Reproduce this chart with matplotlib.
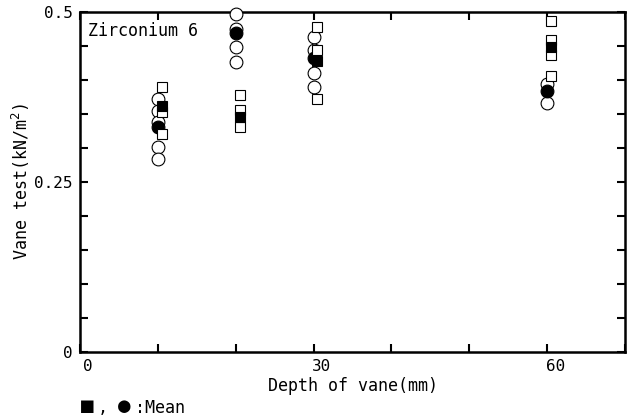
import matplotlib
matplotlib.use("Agg")
import matplotlib.pyplot as plt
import matplotlib.transforms as mtransforms
from matplotlib.ticker import MultipleLocator, FuncFormatter

# ---- data ----
depth = [10, 20, 30, 60]
circle_values = [
    [0.372, 0.354, 0.338, 0.301, 0.284],
    [0.497, 0.475, 0.449, 0.426],
    [0.463, 0.444, 0.410, 0.390],
    [0.395, 0.366],
]
circle_mean = [0.331, 0.469, 0.432, 0.384]
square_values = [
    [0.390, 0.353, 0.320],
    [0.378, 0.356, 0.331],
    [0.478, 0.444, 0.372],
    [0.487, 0.459, 0.437, 0.406],
]
square_mean = [0.362, 0.345, 0.428, 0.448]
x_labels = {0: "0", 30: "30", 60: "60"}
y_labels = {0.0: "0", 0.25: "0.25", 0.5: "0.5"}

FONT = ["DejaVu Sans Mono", "DejaVu Sans"]
plt.rcParams["font.family"] = FONT
plt.rcParams["font.size"] = 12

W, H = 634, 419
fig = plt.figure(figsize=(W / 100, H / 100), dpi=100)
ax = fig.add_axes([0.126, 0.160, 0.860, 0.811])

sq_off = 0.5
for d, vals in zip(depth, circle_values):
    ax.plot([d] * len(vals), vals, linestyle="none", marker="o", markersize=9.2,
            markerfacecolor="white", markeredgecolor="black", markeredgewidth=0.8,
            clip_on=False, zorder=5)
ax.plot(depth, circle_mean, linestyle="none", marker="o", markersize=9.2,
        markerfacecolor="black", markeredgecolor="black", markeredgewidth=0.8,
        clip_on=False, zorder=6)
for d, vals in zip(depth, square_values):
    ax.plot([d + sq_off] * len(vals), vals, linestyle="none", marker="s", markersize=6.5,
            markerfacecolor="white", markeredgecolor="black", markeredgewidth=0.8,
            clip_on=False, zorder=7)
ax.plot([d + sq_off for d in depth], square_mean, linestyle="none", marker="s",
        markersize=6.5, markerfacecolor="black", markeredgecolor="black",
        markeredgewidth=0.8, clip_on=False, zorder=8)

ax.set_xlim(0, 70)
ax.set_ylim(0, 0.5)
ax.xaxis.set_major_locator(MultipleLocator(10))
ax.yaxis.set_major_locator(MultipleLocator(0.05))

def fx(v, pos):
    for k, s in x_labels.items():
        if abs(v - k) < 1e-6:
            return s
    return ""

def fy(v, pos):
    for k, s in y_labels.items():
        if abs(v - k) < 1e-6:
            return s
    return ""

ax.xaxis.set_major_formatter(FuncFormatter(fx))
ax.yaxis.set_major_formatter(FuncFormatter(fy))
ax.tick_params(direction="in", length=6, width=1.5, top=True, right=True,
               labelsize=11.5, pad=5)
for sp in ax.spines.values():
    sp.set_linewidth(1.8)

off = mtransforms.ScaledTranslation(8 / 100, 0, fig.dpi_scale_trans)
for lab in ax.get_xticklabels():
    lab.set_transform(lab.get_transform() + off)

ax.set_xlabel("Depth of vane(mm)", fontsize=12, labelpad=2)
ax.set_ylabel("Vane test(kN/m$^2$)", fontsize=12)
ax.yaxis.set_label_coords(-0.088, 0.5)

ax.text(0.015, 0.945, "Zirconium 6", transform=ax.transAxes, fontsize=12,
        ha="left", va="center", zorder=10)

# legend note at the bottom
yc = (H - 406) / H
yb = (H - 413) / H
fig.text(81 / W, yc, "■", fontsize=15, ha="left", va="center", family=FONT)
fig.text(98 / W, yb, ",", fontsize=12, ha="left", va="baseline", family=FONT)
fig.text(118 / W, yc, "●", fontsize=15, ha="left", va="center", family=FONT)
fig.text(135 / W, yb, ":Mean", fontsize=12, ha="left", va="baseline", family=FONT)

fig.savefig("out.png", dpi=100)
